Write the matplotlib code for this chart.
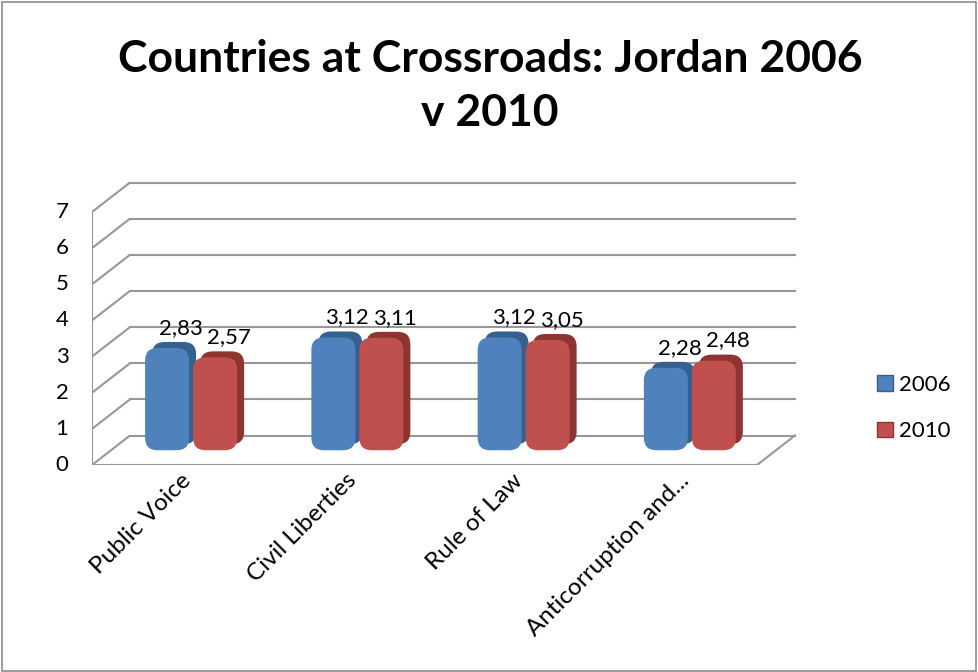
import matplotlib
matplotlib.use("Agg")
import matplotlib.pyplot as plt
from matplotlib.patches import FancyBboxPatch, Rectangle, Patch

# ===== DATA =====
categories = ["Public Voice", "Civil Liberties", "Rule of Law", "Anticorruption and..."]
series_names = ["2006", "2010"]
values_2006 = [2.83, 3.12, 3.12, 2.28]
values_2010 = [2.57, 3.11, 3.05, 2.48]
value_labels_2006 = ["2,83", "3,12", "3,12", "2,28"]
value_labels_2010 = ["2,57", "3,11", "3,05", "2,48"]
y_ticks = [0, 1, 2, 3, 4, 5, 6, 7]

# ===== STYLE / GEOMETRY (pixels) =====
W, H = 979, 672
DPI = 100
FONT = "Lato"
BLUE, BLUE_DARK = "#4F81BD", "#35608F"
RED, RED_DARK = "#C0504D", "#8E3532"
GRID = "#989898"

X0_PX = 92          # front-left of plot, value 0
Y0_PX = 465
CAT_PX = 166.25     # px per category
UNIT_PX = 253 / 7   # px per value unit
DEPTH_X_PX = 38
DEPTH_Y_PX = 29.5
AX_W_PX = 720
AX_H_PX = 300

dxu = DEPTH_X_PX / CAT_PX
dyu = DEPTH_Y_PX / UNIT_PX

plt.rcParams["font.family"] = [FONT, "DejaVu Sans"]
fig = plt.figure(figsize=(W / DPI, H / DPI), dpi=DPI)
ax = fig.add_axes([X0_PX / W, (H - Y0_PX) / H, AX_W_PX / W, AX_H_PX / H])
ax.set_xlim(0, AX_W_PX / CAT_PX)
ax.set_ylim(0, AX_H_PX / UNIT_PX)
ax.axis("off")

n = len(categories)
ymax = y_ticks[-1]

# back wall gridlines + side wall diagonals
for t in y_ticks:
    ax.plot([0, dxu], [t, t + dyu], color=GRID, lw=1.5, solid_capstyle="butt")
    ax.plot([dxu, n + dxu], [t + dyu, t + dyu], color=GRID, lw=1.5)
# front left edge and floor
ax.plot([0, 0], [0, ymax], color=GRID, lw=1.5)
ax.plot([0, n], [0, 0], color=GRID, lw=1.5)
ax.plot([n, n + dxu], [0, dyu], color=GRID, lw=1.5)

# y tick labels
for t in y_ticks:
    ax.text(-0.18, t, str(t), ha="center", va="center", fontsize=16)

# bars
bw = 44 / CAT_PX
offs = [-30 / CAT_PX, 18 / CAT_PX]
sx, sy = 7 / CAT_PX, 6 / UNIT_PX
base = dyu / 2
aspect = CAT_PX / UNIT_PX

def draw_bars(vals, labels, off, col, dark):
    xs = [i + 0.5 + off for i in range(n)]
    rects = ax.bar(xs, vals, width=bw, bottom=base, align="edge", color=col, alpha=0)
    for r, lab in zip(rects, labels):
        x, y, w, h = r.get_x(), r.get_y(), r.get_width(), r.get_height()
        rnd = 0.075
        back = FancyBboxPatch((x + sx, y + sy), w, h, boxstyle=f"round,pad=0,rounding_size={rnd}",
                              mutation_aspect=aspect, fc=dark, ec="none", zorder=3)
        front = FancyBboxPatch((x, y), w, h, boxstyle=f"round,pad=0,rounding_size={rnd}",
                               mutation_aspect=aspect, fc=col, ec="none", zorder=4)
        ax.add_patch(back)
        ax.add_patch(front)
        ax.annotate(lab, (x + w / 2 + sx * 2, y + h + sy), xytext=(0, 3), textcoords="offset points",
                    ha="center", va="bottom", fontsize=16, zorder=6)

draw_bars(values_2006, value_labels_2006, offs[0], BLUE, BLUE_DARK)
draw_bars(values_2010, value_labels_2010, offs[1], RED, RED_DARK)

# category labels
for i, c in enumerate(categories):
    ax.text(i + 0.5 + 12 / CAT_PX, -12 / UNIT_PX, c, rotation=45, rotation_mode="anchor",
            ha="right", va="center", fontsize=17.5)

# legend
handles = [Patch(facecolor=BLUE, edgecolor=BLUE_DARK), Patch(facecolor=RED, edgecolor=RED_DARK)]
fig.legend(handles, series_names, loc="center left", bbox_to_anchor=(857 / W, 1 - 408 / H),
           frameon=False, fontsize=16, handlelength=0.7, handleheight=0.7,
           handletextpad=0.3, labelspacing=1.2)

# title
fig.text(490 / W, 1 - 86 / H, "Countries at Crossroads: Jordan 2006\nv 2010", ha="center", va="center",
         fontsize=32, fontweight="bold", linespacing=1.45)

# outer border
fig.patches.append(Rectangle((2 / W, 1 / H), (W - 5) / W, (H - 3) / H, transform=fig.transFigure,
                             fill=False, ec="#8c8c8c", lw=1.2))

fig.savefig("out.png", dpi=DPI)
